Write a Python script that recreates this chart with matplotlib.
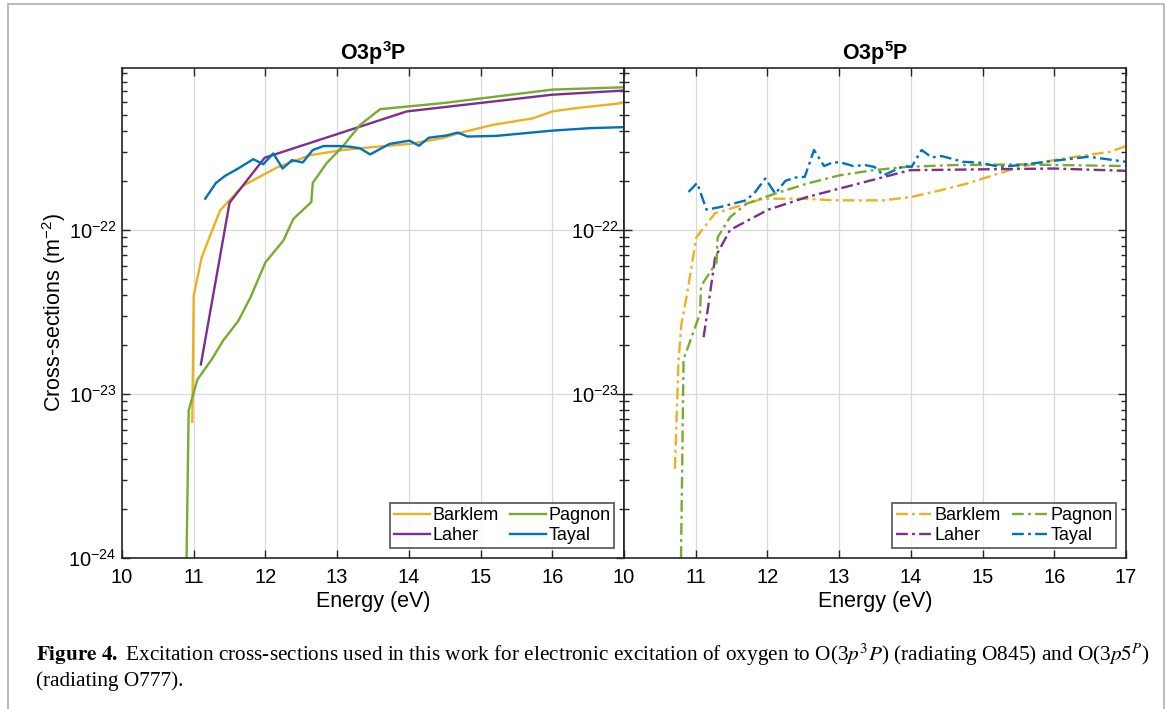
import numpy as np
import matplotlib
matplotlib.use("Agg")
import matplotlib.pyplot as plt
from matplotlib.patches import Rectangle
from matplotlib.ticker import LogLocator, FixedLocator, NullFormatter

plt.rcParams['font.family'] = ['Liberation Sans', 'DejaVu Sans']
plt.rcParams['mathtext.fontset'] = 'custom'
plt.rcParams['mathtext.rm'] = 'Liberation Sans'
plt.rcParams['mathtext.it'] = 'Liberation Sans:italic'
plt.rcParams['mathtext.bf'] = 'Liberation Sans:bold'

# colores por defecto de matlab
c_bark = '#EDB120'
c_pag = '#77AC30'
c_lah = '#7E2F8E'
c_tay = '#0072BD'

# ---- O3p3P (energia en eV, log10 de la seccion eficaz en m^-2) ----
E_bark_3 = [10.98, 11.00, 11.11, 11.22, 11.37, 11.69, 12.16, 12.62, 13.08, 13.55,
            14.01, 14.48, 14.70, 15.17, 15.73, 16.00, 16.33, 16.98]
s_bark_3 = [-23.17, -22.40, -22.17, -22.045, -21.88, -21.73, -21.62, -21.545, -21.513, -21.493,
            -21.476, -21.44, -21.41, -21.36, -21.32, -21.278, -21.258, -21.227]

E_lah_3 = [11.10, 11.50, 11.99, 13.97, 16.00, 16.98]
s_lah_3 = [-22.82, -21.834, -21.56, -21.278, -21.176, -21.151]

E_pag_3 = [10.90, 10.93, 11.05, 11.25, 11.41, 11.62, 11.79, 12.00, 12.25, 12.39,
           12.64, 12.66, 12.85, 13.08, 13.32, 13.60, 14.48, 16.00, 16.98]
s_pag_3 = [-24.0, -23.10, -22.914, -22.79, -22.675, -22.556, -22.413, -22.198, -22.065, -21.933,
           -21.83, -21.714, -21.595, -21.49, -21.36, -21.264, -21.227, -21.145, -21.131]

E_tay_3 = [11.16, 11.31, 11.44, 11.62, 11.83, 11.97, 12.11, 12.24, 12.37, 12.52,
           12.66, 12.81, 13.04, 13.18, 13.32, 13.46, 13.73, 14.01, 14.14, 14.28,
           14.52, 14.68, 14.82, 15.22, 16.00, 16.52, 16.98]
s_tay_3 = [-21.81, -21.714, -21.67, -21.626, -21.569, -21.60, -21.534, -21.626, -21.575, -21.589,
           -21.513, -21.489, -21.489, -21.493, -21.503, -21.54, -21.476, -21.456, -21.487, -21.438,
           -21.425, -21.407, -21.431, -21.427, -21.395, -21.38, -21.374]

# ---- O3p5P ----
E_bark_5 = [10.71, 10.76, 10.80, 10.87, 11.01, 11.27, 11.48, 11.94, 12.50, 12.97,
            13.62, 14.00, 14.41, 14.78, 15.15, 15.52, 15.99, 16.45, 16.78, 17.00]
s_bark_5 = [-23.456, -22.80, -22.577, -22.413, -22.045, -21.898, -21.871, -21.81, -21.81, -21.82,
            -21.82, -21.80, -21.759, -21.718, -21.667, -21.616, -21.575, -21.544, -21.524, -21.489]

E_lah_5 = [11.11, 11.18, 11.27, 11.48, 12.01, 12.55, 13.99, 15.99, 17.00]
s_lah_5 = [-22.654, -22.45, -22.168, -22.0, -21.877, -21.80, -21.636, -21.626, -21.64]

E_pag_5 = [10.795, 10.83, 11.06, 11.074, 11.29, 11.306, 11.48, 11.71, 11.90, 12.11,
           12.55, 13.01, 13.48, 13.94, 14.59, 15.52, 17.00]
s_pag_5 = [-24.0, -22.79, -22.51, -22.342, -22.198, -22.045, -21.922, -21.84, -21.81, -21.779,
           -21.718, -21.667, -21.636, -21.616, -21.605, -21.601, -21.611]

E_tay_5 = [10.90, 11.02, 11.15, 11.34, 11.70, 11.83, 11.97, 12.11, 12.25, 12.39,
           12.52, 12.65, 12.79, 12.92, 13.04, 13.20, 13.36, 13.49, 13.62, 13.90,
           14.01, 14.15, 14.29, 14.43, 14.73, 14.97, 15.24, 15.52, 15.99, 16.48, 17.00]
s_tay_5 = [-21.769, -21.714, -21.877, -21.861, -21.82, -21.769, -21.687, -21.779, -21.701, -21.681,
           -21.677, -21.513, -21.611, -21.587, -21.591, -21.611, -21.605, -21.616, -21.667, -21.611,
           -21.616, -21.513, -21.558, -21.55, -21.585, -21.591, -21.616, -21.605, -21.579, -21.554, -21.585]

fig = plt.figure(figsize=(11.71, 7.09), dpi=100)
fig.patches.append(Rectangle((8 / 1171, -0.01), 1156 / 1171, 1.004, transform=fig.transFigure,
                             fill=False, edgecolor='#b0b0b0', linewidth=1.2))

ax1 = fig.add_axes([122 / 1171, 1 - 558 / 709, 502 / 1171, 490 / 709])
ax2 = fig.add_axes([624 / 1171, 1 - 558 / 709, 502 / 1171, 490 / 709])

lw = 1.7
ax1.plot(E_bark_3, 10 ** np.array(s_bark_3), color=c_bark, lw=lw, label='Barklem')
ax1.plot(E_lah_3, 10 ** np.array(s_lah_3), color=c_lah, lw=lw, label='Laher')
ax1.plot(E_pag_3, 10 ** np.array(s_pag_3), color=c_pag, lw=lw, label='Pagnon')
ax1.plot(E_tay_3, 10 ** np.array(s_tay_3), color=c_tay, lw=lw, label='Tayal')

dd = (0, (5, 1.8, 1.2, 1.8))
ax2.plot(E_bark_5, 10 ** np.array(s_bark_5), color=c_bark, lw=lw, ls=dd, label='Barklem')
ax2.plot(E_lah_5, 10 ** np.array(s_lah_5), color=c_lah, lw=lw, ls=dd, label='Laher')
ax2.plot(E_pag_5, 10 ** np.array(s_pag_5), color=c_pag, lw=lw, ls=dd, label='Pagnon')
ax2.plot(E_tay_5, 10 ** np.array(s_tay_5), color=c_tay, lw=lw, ls=dd, label='Tayal')

for ax in (ax1, ax2):
    ax.set_yscale('log')
    ax.set_xlim(10, 17)
    ax.set_ylim(1e-24, 9.7e-22)
    ax.set_xticks(range(10, 18))
    ax.yaxis.set_major_locator(FixedLocator([1e-24, 1e-23, 1e-22]))
    ax.yaxis.set_minor_locator(LogLocator(base=10, subs=np.arange(2, 10)))
    ax.yaxis.set_minor_formatter(NullFormatter())
    ax.grid(True, which='major', color='#d9d9d9', lw=0.9)
    ax.tick_params(which='both', direction='in', top=True, right=True, labelsize=14.5,
                   color='#262626', width=1.0)
    ax.tick_params(which='major', length=6)
    ax.tick_params(which='minor', length=3.5)
    ax.tick_params(axis='x', pad=7)
    ax.tick_params(axis='y', pad=4)
    for s in ax.spines.values():
        s.set_linewidth(1.2)
        s.set_color('#262626')
    ax.set_xlabel('Energy (eV)', fontsize=15.5, labelpad=3)
    leg = ax.legend(loc='lower right', ncol=2, fontsize=13, frameon=True, fancybox=False,
                    handlelength=2.0, handletextpad=0.15, columnspacing=0.6, labelspacing=0.2,
                    borderpad=0.2, borderaxespad=0.55)
    leg.get_frame().set_edgecolor('#262626')
    leg.get_frame().set_linewidth(1.2)

ax1.set_xticklabels(['10', '11', '12', '13', '14', '15', '16', ''])
ax2.set_yticks([1e-23, 1e-22])
ax2.set_yticklabels(['$\\mathdefault{10^{-23}}$', '$\\mathdefault{10^{-22}}$'])

ax1.set_ylabel('Cross-sections (m$^{-2}$)', fontsize=15.5, labelpad=0)
ax1.set_title('O3p$^{\\mathbf{3}}$P', fontsize=15.5, fontweight='bold', pad=6)
ax2.set_title('O3p$^{\\mathbf{5}}$P', fontsize=15.5, fontweight='bold', pad=6)

# pie de figura
cap1 = ('$\\mathbf{Figure\\ 4.}$ Excitation cross-sections used in this work for electronic excitation '
        'of oxygen to O(3$p^3P$) (radiating O845) and O(3$p5^P$)')
fig.text(36 / 1171, 1 - 655 / 709, cap1, fontsize=15.3, family='Liberation Serif',
         math_fontfamily='stix', va='center', ha='left')
fig.text(36 / 1171, 1 - 681 / 709, '(radiating O777).', fontsize=15.3, family='Liberation Serif',
         math_fontfamily='stix', va='center', ha='left')

fig.savefig('out.png', dpi=100)
